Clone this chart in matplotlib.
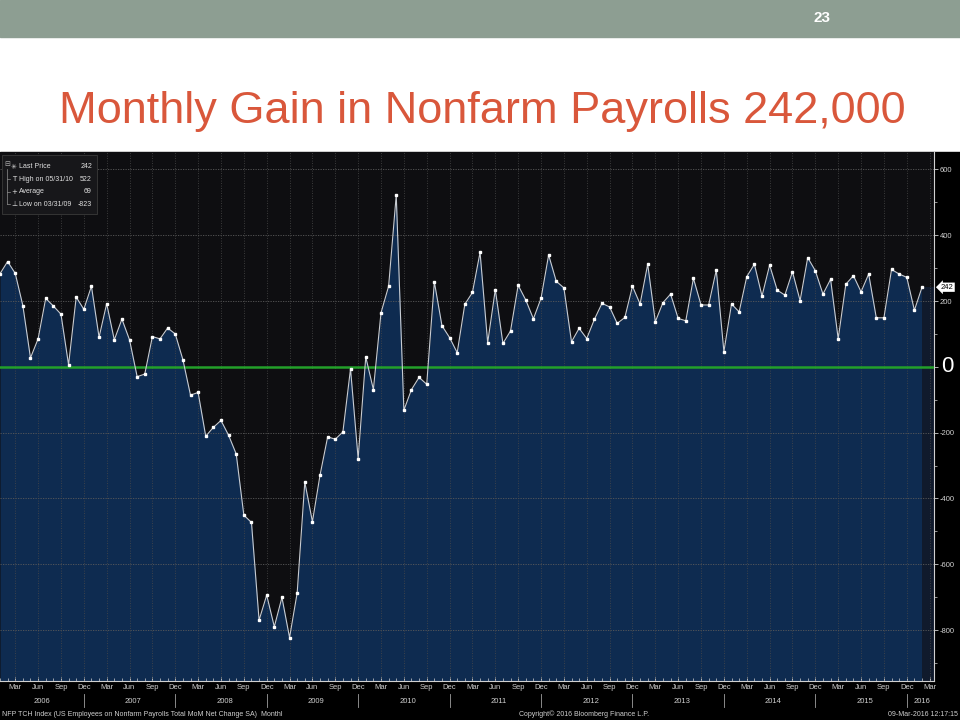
import matplotlib
matplotlib.use("Agg")
import matplotlib.pyplot as plt
import numpy as np

# monthly net change in nonfarm payrolls (thousands), Jan 2006 .. Feb 2016
y2006 = [283, 320, 284, 186, 27, 85, 208, 185, 160, 6, 212, 175]
y2007 = [245, 90, 192, 82, 145, 82, -30, -22, 92, 85, 118, 100]
y2008 = [22, -86, -78, -211, -184, -163, -208, -265, -451, -473, -770, -694]
y2009 = [-790, -701, -823, -687, -350, -471, -329, -213, -220, -198, -6, -279]
y2010 = [30, -69, 164, 245, 522, -132, -69, -32, -53, 258, 125, 89]
y2011 = [43, 190, 226, 348, 73, 235, 71, 109, 248, 203, 146, 208]
y2012 = [340, 260, 240, 76, 117, 86, 144, 193, 182, 132, 150, 245]
y2013 = [191, 312, 137, 195, 221, 147, 140, 269, 188, 188, 294, 46]
y2014 = [191, 167, 274, 312, 215, 309, 233, 218, 289, 201, 332, 292]
y2015 = [221, 266, 85, 251, 277, 228, 282, 149, 149, 296, 282, 272]
y2016 = [172, 242]

vals = np.array(y2006 + y2007 + y2008 + y2009 + y2010 + y2011 + y2012 +
                y2013 + y2014 + y2015 + y2016)
x = np.arange(len(vals))

years = list(range(2006, 2017))
month_names = ["Mar", "Jun", "Sep", "Dec"]
yticks = [600, 400, 200, -200, -400, -600, -800]

legend_rows = [("\u2733", "Last Price", "242"),
               ("T", "High on 05/31/10", "522"),
               ("+", "Average", "69"),
               ("\u22a5", "Low on 03/31/09", "-823")]

title = "Monthly Gain in Nonfarm Payrolls 242,000"
small = "Liberation Sans"

fig = plt.figure(figsize=(9.6, 7.2), dpi=100)
fig.patch.set_facecolor("white")

# top grey band with slide number
fig.patches.append(plt.Rectangle((0, 1 - 37 / 720), 1, 37 / 720, transform=fig.transFigure,
                                 color="#8d9e92", zorder=-5))
fig.text(822 / 960, 1 - 18 / 720, "23", color="white", fontsize=11, fontweight="bold",
         ha="center", va="center", family="Liberation Sans")
fig.text(482 / 960, 1 - 112 / 720, title, color="#d9573b", fontsize=32.5,
         ha="center", va="center", family="Liberation Sans")

# black chart block
fig.patches.append(plt.Rectangle((0, 0), 1, 1 - 152 / 720, transform=fig.transFigure,
                                 color="black", zorder=-5))

ymin, ymax = -955, 653
xmax = 934 / 7.62
ax = fig.add_axes([0, 1 - 681 / 720, 934 / 960, (681 - 152) / 720])
ax.set_zorder(1)
ax.set_facecolor("#0e0e11")
ax.set_xlim(0, xmax)
ax.set_ylim(ymin, ymax)

ax.fill_between(x, vals, ymin, color="#0e2b50", zorder=1, linewidth=0)
ax.fill_between([x[-1], xmax], [vals[-1], vals[-1]], ymin, color="#101a2c", zorder=1, linewidth=0)
ax.axhline(0, color="#23a02a", lw=1.8, zorder=3)
ax.plot(x, vals, color="#c8ccd2", lw=0.8, zorder=4)
ax.plot(x, vals, ls="none", marker="s", ms=1.6, mfc="white", mec="white", zorder=5)

# grid
for t in yticks:
    ax.axhline(t, color="#5a5a5a", lw=0.6, ls=(0, (1.5, 1.5)), zorder=2)
qx = [i for i in range(len(vals) + 1) if i % 3 == 2]
for q in qx:
    ax.axvline(q, color="#4a4a4a", lw=0.6, ls=(0, (1, 2)), zorder=2)

for s in ["left", "top"]:
    ax.spines[s].set_visible(False)
ax.spines["right"].set_color("#d0d0d0")
ax.spines["right"].set_linewidth(0.8)
ax.spines["bottom"].set_color("#d0d0d0")
ax.spines["bottom"].set_linewidth(0.8)

ax.yaxis.tick_right()
ax.set_yticks(yticks + [0])
ax.set_yticklabels([str(t) for t in yticks] + [""], family=small)
ax.set_yticks(np.arange(-900, 700, 100), minor=True)
ax.tick_params(axis="y", which="major", colors="#d0d0d0", labelsize=5.5, length=3, width=0.6, pad=1)
ax.tick_params(axis="y", which="minor", colors="#d0d0d0", length=2, width=0.5)

ax.set_xticks(qx)
ax.set_xticklabels([month_names[(i // 3) % 4] for i in qx], family=small)
ax.set_xticks(np.arange(0, len(vals) + 1), minor=True)
ax.tick_params(axis="x", which="major", colors="#d0d0d0", labelsize=5.5, length=3, width=0.6,
               pad=2, direction="in")
ax.tick_params(axis="x", which="minor", colors="#d0d0d0", length=2, width=0.5, direction="in")

# year labels and separators
for k, yr in enumerate(years):
    cx = 5.5 + 12 * k if yr < 2016 else 121
    ax.text(cx, -0.038, str(yr), transform=ax.get_xaxis_transform(), color="#d0d0d0",
            fontsize=5.5, ha="center", va="center", clip_on=False, family=small)
    if yr < 2016:
        ax.plot([11 + 12 * k] * 2, [-0.025, -0.05], transform=ax.get_xaxis_transform(),
                color="#a0a0a0", lw=0.6, clip_on=False)

# big zero label and last price tag
ax.text(xmax + 0.9, 0, "0", color="white", fontsize=16, ha="left", va="center",
        family="Liberation Sans", clip_on=False)
ax.text(xmax + 0.9, vals[-1], "242", color="black", fontsize=5.5, ha="left", va="center",
        clip_on=False, family=small, bbox=dict(boxstyle="larrow,pad=0.15", fc="white", ec="none"))

# legend box
ax.add_patch(plt.Rectangle((2 / 934, 1 - 62 / 529), 95 / 934, 59 / 529, transform=ax.transAxes,
                           fc="#17171a", ec="#3a3a3a", lw=0.6, zorder=6))
ax.text(7 / 934, 1 - 12 / 529, "\u229f", transform=ax.transAxes, color="#b0b0b0",
        fontsize=5, va="center", ha="center", zorder=7)
ax.plot([7 / 934, 7 / 934], [1 - 17 / 529, 1 - 52 / 529], transform=ax.transAxes,
        color="#909090", lw=0.5, zorder=7)
for r, (sym, lab, val) in enumerate(legend_rows):
    yy = 1 - (15 + 12.4 * r) / 529
    if r > 0:
        ax.plot([7 / 934, 10 / 934], [yy, yy], transform=ax.transAxes,
                color="#909090", lw=0.5, zorder=7)
    ax.text(14 / 934, yy, sym, transform=ax.transAxes, color="#e0e0e0", fontsize=5,
            ha="center", va="center", zorder=7)
    ax.text(19 / 934, yy, lab, transform=ax.transAxes, color="#e0e0e0", fontsize=5,
            ha="left", va="center", zorder=7, family=small)
    ax.text(92 / 934, yy, val, transform=ax.transAxes, color="#e0e0e0", fontsize=5,
            ha="right", va="center", zorder=7, family=small)

# footer
fig.text(2 / 960, 1 - 714 / 720, "NFP TCH Index (US Employees on Nonfarm Payrolls Total MoM Net Change SA)  Monthl",
         color="#d0d0d0", fontsize=5, ha="left", va="center", family=small)
fig.text(519 / 960, 1 - 714 / 720, "Copyright\u00a9 2016 Bloomberg Finance L.P.",
         color="#d0d0d0", fontsize=5, ha="left", va="center", family=small)
fig.text(958 / 960, 1 - 714 / 720, "09-Mar-2016 12:17:15",
         color="#d0d0d0", fontsize=5, ha="right", va="center", family=small)

fig.savefig("out.png", dpi=100, facecolor=fig.get_facecolor())
